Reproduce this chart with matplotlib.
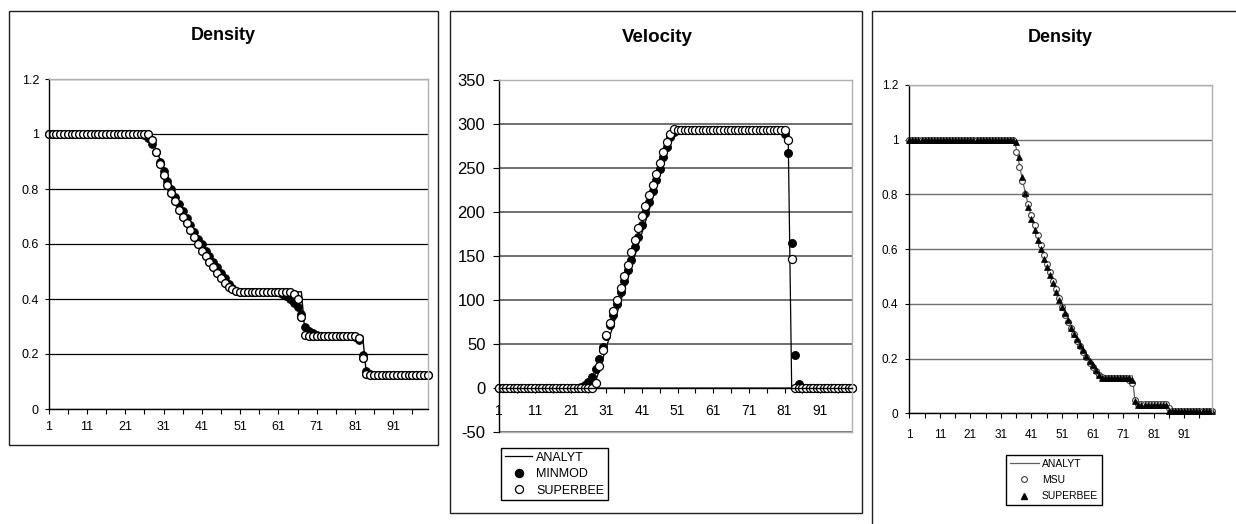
import numpy as np
import matplotlib
matplotlib.use("Agg")
import matplotlib.pyplot as plt
from matplotlib.lines import Line2D
from matplotlib.patches import Rectangle

plt.rcParams['font.family'] = ['Liberation Sans', 'DejaVu Sans']

# ---------------- data (cell index 1..100) ----------------
x_labels = ['1', '11', '21', '31', '41', '51', '61', '71', '81', '91']

# Panel 1: density (Sod tube)
p1_analyt = ([1.0] * 27 +
             [0.98, 0.945, 0.91, 0.875, 0.845, 0.815, 0.785, 0.755, 0.725, 0.70,
              0.675, 0.65, 0.625, 0.60, 0.58, 0.555, 0.535, 0.515, 0.495, 0.475,
              0.46, 0.445, 0.43] +
             [0.426] * 17 + [0.266] * 16 + [0.125] * 17)
p1_minmod = ([1.0] * 25 +
             [0.995, 0.985, 0.965, 0.935, 0.90, 0.865, 0.83, 0.80, 0.77, 0.745,
              0.72, 0.695, 0.67, 0.645, 0.62, 0.60, 0.575, 0.555, 0.535, 0.515,
              0.495, 0.475, 0.455, 0.44, 0.43, 0.427] +
             [0.426] * 9 +
             [0.425, 0.42, 0.41, 0.40, 0.385, 0.37, 0.345, 0.30, 0.285, 0.275, 0.27] +
             [0.266] * 9 +
             [0.262, 0.25, 0.195, 0.14, 0.128] +
             [0.125] * 15)
p1_superbee = ([1.0] * 27 +
               [0.98, 0.935, 0.89, 0.85, 0.815, 0.785, 0.755, 0.725, 0.70, 0.675,
                0.65, 0.625, 0.60, 0.575, 0.555, 0.535, 0.515, 0.495, 0.475, 0.46,
                0.445, 0.435, 0.428] +
               [0.426] * 14 +
               [0.42, 0.40, 0.335, 0.27] +
               [0.266] * 13 +
               [0.258, 0.185, 0.128] +
               [0.125] * 16)

# Panel 2: velocity
p2_analyt = ([0.0] * 27 +
             [7, 20, 33, 46, 59, 72, 85, 98, 111, 124, 137, 150, 163, 176, 189,
              202, 215, 228, 241, 254, 267, 280, 292] +
             [293.3] * 32 + [0.0] * 18)
p2_minmod = ([0.0] * 23 +
             [1, 3, 7, 13, 22, 33, 47, 59, 72, 83, 96, 109, 122, 134, 146, 160,
              172, 185, 199, 211, 224, 236, 249, 262, 274, 285, 291, 293] +
             [293.0] * 29 +
             [289, 267, 165, 38, 5] +
             [0.0] * 15)
p2_superbee = ([0.0] * 27 +
               [6, 25, 43, 60, 74, 87, 100, 114, 127, 140, 154, 168, 182, 195,
                207, 219, 231, 243, 256, 268, 280, 289, 294] +
               [293.5] * 31 +
               [282, 147] +
               [0.0] * 17)

# Panel 3: density (second problem)
p3_analyt = ([1.0] * 35 +
             [0.97, 0.91, 0.855, 0.805, 0.76, 0.715, 0.675, 0.64, 0.605, 0.57,
              0.54, 0.51, 0.48, 0.45, 0.42, 0.392, 0.365, 0.34, 0.315, 0.292,
              0.27, 0.25, 0.23, 0.21, 0.19, 0.175, 0.16, 0.145] +
             [0.137] * 11 + [0.033] * 11 + [0.009] * 15)
p3_msu = ([1.0] * 35 +
          [0.955, 0.90, 0.85, 0.80, 0.765, 0.725, 0.69, 0.65, 0.615, 0.58,
           0.545, 0.515, 0.485, 0.455, 0.42, 0.39, 0.36, 0.335, 0.31, 0.29,
           0.265, 0.245, 0.225, 0.205, 0.185, 0.17, 0.155, 0.14, 0.132] +
          [0.13] * 8 +
          [0.122, 0.11, 0.05] +
          [0.033] * 10 + [0.018] + [0.008] * 14)
p3_superbee = ([1.0] * 35 +
               [0.99, 0.935, 0.865, 0.805, 0.755, 0.71, 0.67, 0.635, 0.60, 0.565,
                0.535, 0.505, 0.475, 0.445, 0.415, 0.39, 0.365, 0.34, 0.31, 0.29,
                0.27, 0.25, 0.23, 0.21, 0.19, 0.175, 0.16, 0.14, 0.13] +
               [0.13] * 8 +
               [0.13, 0.12, 0.045] +
               [0.032] * 10 + [0.01] + [0.008] * 14)

# ---------------- figure ----------------
W, H = 1236, 524
fig = plt.figure(figsize=(W / 100, H / 100), dpi=100)


def frac_rect(x0, y0, x1, y1):
    return [x0 / W, 1 - y1 / H, (x1 - x0) / W, (y1 - y0) / H]


def border(x0, y0, x1, y1):
    fig.add_artist(Rectangle((x0 / W, 1 - y1 / H), (x1 - x0) / W, (y1 - y0) / H,
                             transform=fig.transFigure, fill=False,
                             edgecolor='#202020', lw=1.0))


def setup_x(ax, fs, pad):
    ax.set_xlim(1, 100)
    ax.set_xticks(np.arange(1, 101, 10))
    ax.set_xticklabels(x_labels, fontsize=fs)
    ax.set_xticks(np.arange(6, 101, 10), minor=True)
    ax.tick_params(axis='x', which='both', direction='out', length=3.5,
                   width=0.8, color='black', pad=pad)


def style_spines(ax):
    for s in ['top', 'right']:
        ax.spines[s].set_color('#b0b0b0')
        ax.spines[s].set_linewidth(1.0)
    for s in ['left', 'bottom']:
        ax.spines[s].set_color('black')
        ax.spines[s].set_linewidth(1.0)
    ax.set_axisbelow(True)


# ---- Panel 1 ----
border(9, 11, 438, 445)
ax1 = fig.add_axes(frac_rect(48.7, 79, 427.7, 409))
ax1.set_ylim(0, 1.2)
ax1.set_yticks([0, 0.2, 0.4, 0.6, 0.8, 1.0, 1.2])
ax1.set_yticklabels(['0', '0.2', '0.4', '0.6', '0.8', '1', '1.2'], fontsize=9)
ax1.tick_params(axis='y', direction='out', length=3, width=0.8, pad=4)
setup_x(ax1, 9, 5.5)
ax1.yaxis.grid(True, color='black', lw=0.9)
style_spines(ax1)
ax1.plot(np.arange(1, len(p1_analyt) + 1), p1_analyt, color='black', lw=1.0)
ax1.plot(np.arange(1, len(p1_minmod) + 1), p1_minmod, ls='none', marker='o',
         ms=5.6, mfc='black', mec='black', mew=0.6, clip_on=False)
ax1.plot(np.arange(1, len(p1_superbee) + 1), p1_superbee, ls='none', marker='o',
         ms=5.6, mfc='white', mec='black', mew=1.0, clip_on=False)
fig.text(223 / W, 1 - 35 / H, 'Density', ha='center', va='center',
         fontsize=13, fontweight='bold')

# ---- Panel 2 ----
border(450, 11, 862, 513)
ax2 = fig.add_axes(frac_rect(499.3, 80, 852.3, 432))
ax2.set_ylim(-50, 350)
ax2.set_yticks(np.arange(-50, 351, 50))
ax2.set_yticklabels([str(v) for v in range(-50, 351, 50)], fontsize=12)
ax2.tick_params(axis='y', direction='out', length=4, width=0.8, pad=6)
setup_x(ax2, 12, 8)
ax2.yaxis.grid(True, color='#707070', lw=1.4)
style_spines(ax2)
ax2.spines['bottom'].set_position(('data', 0))
ax2.axhline(-50, color='#b0b0b0', lw=1.0, clip_on=False, zorder=1)
ax2.plot(np.arange(1, len(p2_analyt) + 1), p2_analyt, color='black', lw=0.9)
ax2.plot(np.arange(1, len(p2_minmod) + 1), p2_minmod, ls='none', marker='o',
         ms=5.8, mfc='black', mec='black', mew=0.6, clip_on=False)
ax2.plot(np.arange(1, len(p2_superbee) + 1), p2_superbee, ls='none', marker='o',
         ms=5.8, mfc='white', mec='black', mew=0.9, clip_on=False)
fig.text(657 / W, 1 - 37 / H, 'Velocity', ha='center', va='center',
         fontsize=13.5, fontweight='bold')
h2 = [Line2D([], [], color='black', lw=0.9),
      Line2D([], [], ls='none', marker='o', ms=5.8, mfc='black', mec='black'),
      Line2D([], [], ls='none', marker='o', ms=5.8, mfc='white', mec='black', mew=0.9)]
leg2 = fig.legend(h2, ['ANALYT', 'MINMOD', 'SUPERBEE'], loc='upper left',
                  bbox_to_anchor=(501 / W, 1 - 448 / H), borderaxespad=0,
                  fontsize=9, frameon=True, fancybox=False, edgecolor='black',
                  handlelength=2.2, handletextpad=0.3, labelspacing=0.35,
                  borderpad=0.3, framealpha=1)
leg2.get_frame().set_linewidth(1.0)

# ---- Panel 3 ----
border(872, 11, 1260, 560)
ax3 = fig.add_axes(frac_rect(909.3, 85, 1211.7, 413.3))
ax3.set_ylim(0, 1.2)
ax3.set_yticks([0, 0.2, 0.4, 0.6, 0.8, 1.0, 1.2])
ax3.set_yticklabels(['0', '0.2', '0.4', '0.6', '0.8', '1', '1.2'], fontsize=8.5)
ax3.tick_params(axis='y', direction='out', length=3, width=0.8, pad=5)
setup_x(ax3, 8.5, 8)
ax3.yaxis.grid(True, color='#707070', lw=1.0)
style_spines(ax3)
ax3.plot(np.arange(1, len(p3_analyt) + 1), p3_analyt, color='#606060', lw=0.9)
ax3.plot(np.arange(1, len(p3_msu) + 1), p3_msu, ls='none', marker='o',
         ms=4.2, mfc='white', mec='#404040', mew=0.8, clip_on=False)
ax3.plot(np.arange(1, len(p3_superbee) + 1), p3_superbee, ls='none', marker='^',
         ms=4.6, mfc='black', mec='black', mew=0.5, clip_on=False)
fig.text(1060 / W, 1 - 37 / H, 'Density', ha='center', va='center',
         fontsize=13, fontweight='bold')
h3 = [Line2D([], [], color='#606060', lw=0.9),
      Line2D([], [], ls='none', marker='o', ms=4.2, mfc='white', mec='#404040', mew=0.8),
      Line2D([], [], ls='none', marker='^', ms=4.6, mfc='black', mec='black')]
leg3 = fig.legend(h3, ['ANALYT', 'MSU', 'SUPERBEE'], loc='upper left',
                  bbox_to_anchor=(1006 / W, 1 - 455 / H), borderaxespad=0,
                  fontsize=7.5, frameon=True, fancybox=False, edgecolor='black',
                  handlelength=2.8, handletextpad=0.3, labelspacing=0.6,
                  borderpad=0.35, framealpha=1)
leg3.get_frame().set_linewidth(1.0)

fig.savefig('out.png', dpi=100)
